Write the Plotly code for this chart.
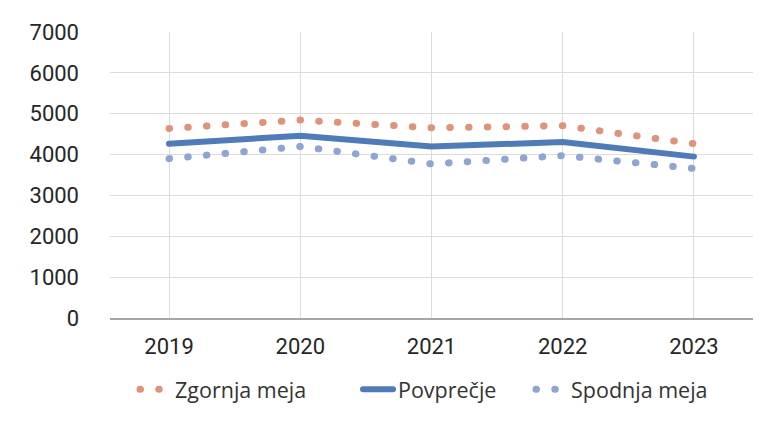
import plotly.graph_objects as go

years = ["2019", "2020", "2021", "2022", "2023"]
zgornja = [4640, 4845, 4655, 4705, 4265]
povprecje = [4265, 4460, 4200, 4305, 3950]
spodnja = [3900, 4200, 3770, 3975, 3660]
y_ticks = [0, 1000, 2000, 3000, 4000, 5000, 6000, 7000]

fig = go.Figure()
fig.add_trace(go.Scatter(x=years, y=zgornja, name="Zgornja meja", mode="lines", legend="legend",
                         line=dict(color="#df9479", width=7, dash="0.5px,18.25px")))
fig.add_trace(go.Scatter(x=years, y=povprecje, name="Povprečje", mode="lines", legend="legend2",
                         line=dict(color="#4f7bb9", width=6)))
fig.add_trace(go.Scatter(x=years, y=spodnja, name="Spodnja meja", mode="lines", legend="legend3",
                         line=dict(color="#8ea4d2", width=7, dash="0.5px,18.25px")))

leg_common = dict(orientation="h", y=-0.245, yanchor="middle", xanchor="left",
                  font=dict(family="Open Sans, sans-serif", size=21.5, color="#333333"),
                  itemwidth=30, bgcolor="rgba(0,0,0,0)")
fig.update_layout(
    width=768, height=421,
    margin=dict(l=110, r=15, t=32, b=102),
    paper_bgcolor="white", plot_bgcolor="white",
    font=dict(family="Roboto, sans-serif", color="#333333"),
    showlegend=True,
    legend=dict(x=(135 - 110) / 643, **leg_common),
    legend2=dict(x=(358 - 110) / 643, **leg_common),
    legend3=dict(x=(531 - 110) / 643, **leg_common),
)
fig.update_xaxes(type="category", range=[-0.45, 4.45], showgrid=True, gridcolor="#dcdcdc",
                 gridwidth=1, showline=True, linecolor="#a6a6a6", linewidth=1.5,
                 ticks="", tickfont=dict(size=22, color="#262626"), ticklabelstandoff=8)
fig.update_yaxes(range=[0, 7000], tickvals=y_ticks, showgrid=True, gridcolor="#dcdcdc",
                 gridwidth=1, zeroline=False, showline=False, ticks="",
                 tickfont=dict(size=22, color="#262626"), ticklabelstandoff=30)

post = """
function roundCaps(){
  document.querySelectorAll('.js-line').forEach(function(p){
    p.style.strokeLinecap='round';
  });
}
roundCaps();
var gd=document.getElementsByClassName('plotly-graph-div')[0];
if(gd && gd.on){gd.on('plotly_afterplot', roundCaps);}
"""
fig.write_html("out.html", post_script=post)
